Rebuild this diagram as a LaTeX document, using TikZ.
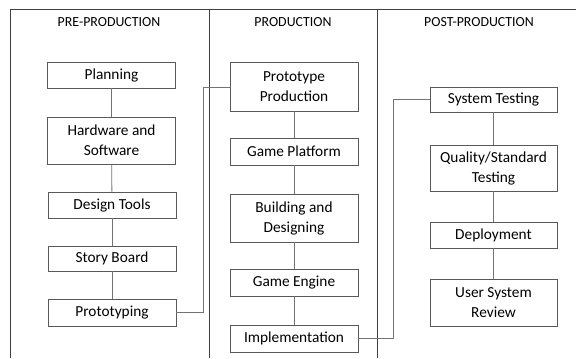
\documentclass[tikz,border=0pt]{standalone}
\usepackage{fontspec}
\setmainfont{Carlito}
\begin{document}
\begin{tikzpicture}[x=0.75pt,y=-0.75pt,
  box/.style={draw=black!65,line width=0.6pt,inner sep=0pt,align=center,
    font=\fontsize{11.5}{15}\selectfont},
  hdr/.style={font=\fontsize{10.4}{12}\selectfont,inner sep=0pt},
  frame/.style={draw=black!75,line width=0.7pt},
  link/.style={draw=black!55,line width=0.6pt}]
\useasboundingbox (0,0) rectangle (576,358);
% frame
\draw[frame] (10,358) -- (10,9) -- (576,9);
\draw[frame] (209,9) -- (209,358);
\draw[frame] (377,9) -- (377,358);
% headers
\node[hdr] (h1) at (109,22) {PRE-PRODUCTION};
\node[hdr] (h2) at (293,22) {PRODUCTION};
\node[hdr] (h3) at (479,22) {POST-PRODUCTION};
% pre-production
\node[box,minimum width=96pt,minimum height=19.5pt] (p1) at (111.5,75) {Planning};
\node[box,minimum width=96pt,minimum height=35.25pt] (p2) at (111.5,140.5) {Hardware and\\Software};
\node[box,minimum width=96pt,minimum height=19.5pt] (p3) at (112,205) {Design Tools};
\node[box,minimum width=96pt,minimum height=18.75pt] (p4) at (112,258.5) {Story Board};
\node[box,minimum width=96pt,minimum height=20.25pt] (p5) at (112,312.5) {Prototyping};
% production
\node[box,minimum width=96pt,minimum height=36.75pt] (q1) at (294,86.5) {Prototype\\Production};
\node[box,minimum width=96pt,minimum height=20.25pt] (q2) at (294,151.5) {Game Platform};
\node[box,minimum width=96pt,minimum height=36pt] (q3) at (294,218) {Building and\\Designing};
\node[box,minimum width=96pt,minimum height=20.25pt] (q4) at (294,282.5) {Game Engine};
\node[box,minimum width=96pt,minimum height=20.25pt] (q5) at (294,338.5) {Implementation};
% post-production
\node[box,minimum width=95.25pt,minimum height=18.75pt] (r1) at (493.5,99.5) {System Testing};
\node[box,minimum width=95.25pt,minimum height=34.5pt] (r2) at (493.5,168) {Quality/Standard\\Testing};
\node[box,minimum width=95.25pt,minimum height=19.5pt] (r3) at (493.5,235) {Deployment};
\node[box,minimum width=95.25pt,minimum height=35.25pt] (r4) at (493.5,302.5) {User System\\Review};
% vertical links
\draw[link] (p1) -- (p2);
\draw[link] (p2) -- (p3);
\draw[link] (p3) -- (p4);
\draw[link] (p4) -- (p5);
\draw[link] (q1) -- (q2);
\draw[link] (q2) -- (q3);
\draw[link] (q3) -- (q4);
\draw[link] (q4) -- (q5);
\draw[link] (r1) -- (r2);
\draw[link] (r2) -- (r3);
\draw[link] (r3) -- (r4);
% cross links
\draw[link] (p5.east) -- (203,312.5) -- (203,87) -- (q1.west |- 0,87);
\draw[link] (q5.east) -- (393,338.5) -- (393,99.5) -- (r1.west);
\end{tikzpicture}
\end{document}
